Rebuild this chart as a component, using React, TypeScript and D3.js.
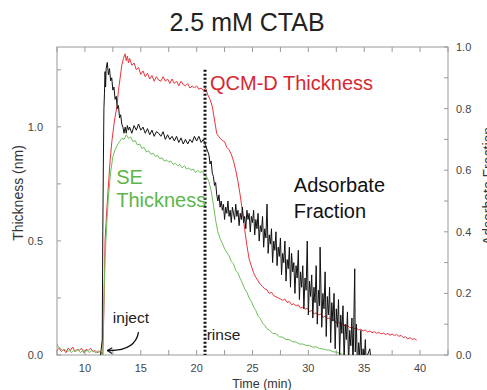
import React from "react";
import * as d3 from "d3";

// ---- data (time in min) ----
const qcmThickness: [number, number][] = [
  [7.5,0.02],[7.7,0.03],[7.9,0.015],[8.1,0.025],[8.3,0.01],[8.5,0.03],[8.7,0.02],[8.9,0.035],[9.1,0.015],[9.3,0.025],[9.5,0.02],[9.7,0.03],[9.9,0.01],[10.1,0.025],[10.3,0.02],[10.5,0.03],[10.7,0.015],[10.9,0.02],[11.1,0.01],[11.3,0.015],[11.5,0.01],[11.6,0.0],
  [11.7,0.2],[11.8,0.5],[11.95,0.63],[12.07,0.72],[12.25,0.85],[12.42,0.94],[12.65,1.03],[12.87,1.09],[13.0,1.16],[13.14,1.21],[13.3,1.27],[13.45,1.30],[13.59,1.32],[13.7,1.29],[13.8,1.31],[13.9,1.28],[14.0,1.30],[14.2,1.27],[14.4,1.28],[14.6,1.25],[14.8,1.26],[15.0,1.23],[15.2,1.245],[15.4,1.22],[15.6,1.235],[15.8,1.21],[16.0,1.225],[16.2,1.20],[16.4,1.22],[16.6,1.205],[16.8,1.20],[17.0,1.22],[17.2,1.20],[17.4,1.21],[17.6,1.19],[17.8,1.21],[18.0,1.19],[18.2,1.20],[18.4,1.18],[18.6,1.20],[18.8,1.185],[19.0,1.18],[19.2,1.19],[19.4,1.17],[19.6,1.18],[19.8,1.17],[20.0,1.18],[20.2,1.165],[20.4,1.17],[20.6,1.16],[20.8,1.17],
  [21.0,1.14],[21.2,1.12],[21.4,1.09],[21.6,1.03],[21.8,0.97],[21.95,0.96],[22.1,0.95],[22.3,0.94],[22.5,0.935],[22.7,0.91],[22.9,0.90],[23.1,0.88],[23.3,0.85],[23.5,0.81],[23.7,0.76],[23.9,0.70],[24.1,0.63],[24.3,0.55],[24.5,0.48],[24.7,0.42],[24.9,0.39],[25.1,0.36],[25.3,0.34],[25.5,0.325],[25.7,0.31],[25.9,0.30],[26.1,0.29],[26.3,0.285],[26.5,0.27],[26.7,0.275],[26.9,0.26],[27.1,0.255],[27.3,0.25],[27.5,0.245],[27.7,0.24],[27.9,0.245],[28.1,0.23],[28.3,0.235],[28.5,0.22],[28.7,0.225],[28.9,0.215],[29.1,0.22],[29.3,0.205],[29.5,0.21],[29.7,0.20],[29.9,0.205],[30.1,0.19],[30.3,0.195],[30.5,0.18],[30.7,0.185],[30.9,0.175],[31.1,0.18],[31.3,0.165],[31.5,0.17],[31.7,0.16],[31.9,0.162],[32.1,0.15],[32.3,0.155],[32.5,0.14],[32.7,0.145],[32.9,0.135],[33.1,0.138],[33.3,0.125],[33.5,0.13],[33.7,0.12],[33.9,0.122],[34.1,0.115],[34.3,0.118],[34.5,0.11],[34.7,0.113],[34.9,0.105],[35.1,0.11],[35.3,0.10],[35.5,0.106],[35.7,0.098],[35.9,0.102],[36.1,0.095],[36.3,0.1],[36.5,0.092],[36.7,0.096],[36.9,0.09],[37.1,0.094],[37.3,0.087],[37.5,0.092],[37.7,0.085],[37.9,0.09],[38.1,0.082],[38.3,0.086],[38.5,0.076],[38.7,0.08],[38.9,0.07],[39.1,0.076],[39.3,0.068],[39.5,0.072],[39.7,0.065]
];

const seThickness: [number, number][] = [
  [7.5,0.05],[7.6,0.035],[7.8,0.03],[8.0,0.02],[8.2,0.025],[8.4,0.015],[8.6,0.02],[8.8,0.01],[9.0,0.02],[9.2,0.015],[9.4,0.025],[9.6,0.01],[9.8,0.02],[10.0,0.015],[10.2,0.02],[10.4,0.01],[10.6,0.02],[10.8,0.015],[11.0,0.01],[11.2,0.02],[11.4,0.01],[11.6,0.0],
  [11.7,0.25],[11.8,0.42],[11.95,0.57],[12.1,0.69],[12.3,0.80],[12.5,0.87],[12.7,0.90],[12.9,0.92],[13.1,0.935],[13.3,0.95],[13.5,0.945],[13.7,0.965],[13.9,0.95],[14.1,0.955],[14.3,0.935],[14.5,0.94],[14.7,0.92],[14.9,0.925],[15.1,0.905],[15.3,0.91],[15.5,0.89],[15.7,0.895],[15.9,0.88],[16.1,0.885],[16.3,0.87],[16.5,0.875],[16.7,0.86],[16.9,0.865],[17.1,0.85],[17.3,0.855],[17.5,0.845],[17.7,0.85],[17.9,0.835],[18.1,0.84],[18.3,0.83],[18.5,0.835],[18.7,0.82],[18.9,0.83],[19.1,0.815],[19.3,0.82],[19.5,0.81],[19.7,0.815],[19.9,0.80],[20.1,0.81],[20.3,0.80],[20.5,0.805],[20.7,0.79],[20.9,0.78],
  [21.1,0.76],[21.3,0.72],[21.5,0.66],[21.7,0.59],[21.9,0.54],[22.1,0.51],[22.3,0.49],[22.5,0.465],[22.7,0.45],[22.9,0.435],[23.1,0.41],[23.3,0.40],[23.5,0.37],[23.7,0.36],[23.9,0.335],[24.1,0.315],[24.3,0.29],[24.5,0.275],[24.7,0.25],[24.9,0.235],[25.1,0.21],[25.3,0.195],[25.5,0.17],[25.7,0.16],[25.9,0.14],[26.1,0.13],[26.3,0.115],[26.5,0.11],[26.8,0.095],[27.1,0.093],[27.4,0.08],[27.7,0.078],[28.0,0.068],[28.3,0.067],[28.6,0.058],[28.9,0.057],[29.2,0.048],[29.5,0.048],[29.8,0.042],[30.1,0.042],[30.4,0.034],[30.7,0.036],[31.0,0.028],[31.3,0.027],[31.6,0.022],[31.9,0.022],[32.2,0.014],[32.5,0.013],[32.8,0.007],[33.1,0.003]
];

const adsorbateFraction: [number, number][] = [
  [11.4,0],[11.55,0.05],[11.6,0.40],[11.65,0.62],[11.7,0.80],[11.75,0.85],[11.8,0.92],[11.85,0.87],[11.9,0.93],[12.0,0.95],[12.1,0.91],[12.2,0.93],[12.3,0.89],[12.4,0.90],[12.5,0.86],[12.6,0.87],[12.7,0.83],[12.8,0.84],[12.9,0.80],[13.0,0.81],[13.1,0.77],[13.2,0.78],[13.3,0.75],[13.4,0.74],[13.5,0.72],[13.6,0.74],[13.7,0.72],[13.8,0.745],[13.9,0.73],[14.0,0.74],[14.2,0.72],[14.4,0.745],[14.6,0.73],[14.8,0.75],[15.0,0.73],[15.2,0.74],[15.4,0.72],[15.6,0.735],[15.8,0.715],[16.0,0.73],[16.2,0.71],[16.4,0.725],[16.6,0.72],[16.8,0.71],[17.0,0.725],[17.2,0.70],[17.4,0.715],[17.6,0.70],[17.8,0.71],[18.0,0.695],[18.2,0.71],[18.4,0.69],[18.6,0.705],[18.8,0.685],[19.0,0.70],[19.2,0.685],[19.4,0.70],[19.6,0.69],[19.8,0.71],[20.0,0.695],[20.2,0.71],[20.4,0.69],[20.6,0.70],[20.8,0.68],
  [21.0,0.66],[21.1,0.65],[21.2,0.62],[21.3,0.63],[21.4,0.59],[21.5,0.58],[21.6,0.55],[21.7,0.56],[21.8,0.52],[21.9,0.50],[22.0,0.52],[22.1,0.48],[22.2,0.50],[22.3,0.47],[22.4,0.49],[22.5,0.44],[22.6,0.48],[22.7,0.46],[22.8,0.50],[22.9,0.45],[23.0,0.47],[23.1,0.43],[23.2,0.48],[23.3,0.46],[23.4,0.44],[23.5,0.49],[23.6,0.45],[23.7,0.47],[23.8,0.42],[23.9,0.46],[24.0,0.44],[24.1,0.48],[24.2,0.43],[24.3,0.45],[24.4,0.41],[24.5,0.47],[24.6,0.44],[24.7,0.46],[24.8,0.40],[24.9,0.45],[25.0,0.43],[25.1,0.47],[25.2,0.39],[25.3,0.44],[25.4,0.41],[25.5,0.46],[25.6,0.37],[25.7,0.42],[25.8,0.40],[25.9,0.45],[26.0,0.35],[26.1,0.41],[26.2,0.38],[26.3,0.49],[26.4,0.33],[26.5,0.39],[26.6,0.36],[26.7,0.41],[26.8,0.30],[26.9,0.37],[27.0,0.34],[27.1,0.40],[27.2,0.29],[27.3,0.35],[27.4,0.32],[27.5,0.38],[27.6,0.26],[27.7,0.33],[27.8,0.30],[27.9,0.37],[28.0,0.24],[28.1,0.31],[28.2,0.28],[28.3,0.35],[28.4,0.22],[28.5,0.33],[28.6,0.27],[28.7,0.30],[28.8,0.20],[28.9,0.29],[29.0,0.25],[29.1,0.34],[29.2,0.18],[29.3,0.27],[29.4,0.22],[29.5,0.29],[29.6,0.15],[29.7,0.25],[29.8,0.21],[29.9,0.37],[30.0,0.13],[30.1,0.24],[30.2,0.19],[30.3,0.26],[30.4,0.12],[30.5,0.22],[30.6,0.17],[30.7,0.29],[30.8,0.10],[30.9,0.21],[31.0,0.16],[31.05,0.35],[31.2,0.09],[31.3,0.20],[31.4,0.15],[31.5,0.27],[31.6,0.06],[31.7,0.19],[31.8,0.13],[31.9,0.22],[32.0,0.04],[32.1,0.17],[32.2,0.11],[32.3,0.20],[32.4,0.02],[32.5,0.15],[32.6,0.09],[32.7,0.18],[32.8,0.0],[32.9,0.13],[33.0,0.07],[33.1,0.16],[33.2,-0.02],[33.3,0.10],[33.4,0.05],[33.5,0.14],[33.6,-0.03],[33.7,0.08],[33.8,0.03],[33.9,0.12],[34.0,-0.04],[34.15,0.28],[34.2,0.01],[34.3,0.10],[34.4,-0.05],[34.5,0.04],[34.6,0.0],[34.7,0.08],[34.8,-0.05],[34.9,0.02],[35.0,-0.02],[35.1,0.05],[35.2,-0.05],[35.3,0.0],[35.5,0.02],[35.7,-0.05]
];

const xMajorTicks = [10, 15, 20, 25, 30, 35, 40];
const xMinorTicks = [7.5, 12.5, 17.5, 22.5, 27.5, 32.5, 37.5, 42.5];
const yLeftMajorTicks = [0, 0.5, 1.0];
const yLeftMinorTicks = [0.25, 0.75, 1.25];
const yRightMajorTicks = [0, 0.2, 0.4, 0.6, 0.8, 1.0];
const yRightMinorTicks = [0.1, 0.3, 0.5, 0.7, 0.9];
const rinseTime = 20.75;

const FONT = "Liberation Sans, Arial, Helvetica, sans-serif";

export default function App() {
  const W = 487, H = 390;
  const L = 57, R = 448, T = 47, B = 355;
  const x = d3.scaleLinear().domain([7.5, 42.5]).range([L, R]);
  const yL = d3.scaleLinear().domain([0, 1.35]).range([B, T]);
  const yR = d3.scaleLinear().domain([0, 1]).range([B, T]);

  const lineL = d3.line<[number, number]>().x(d => x(d[0])).y(d => yL(d[1]));
  const lineR = d3.line<[number, number]>().x(d => x(d[0])).y(d => yR(d[1]));

  const frame = "#9a9a9a";
  const tickCol = "#9a9a9a";
  const lab = "#444";

  // arrow path in data coordinates
  const arrowStart: [number, number] = [14.8, 0.10];
  const arrowCtrl: [number, number] = [14.5, 0.015];
  const arrowEnd: [number, number] = [12.0, 0.02];
  const ap = d3.path();
  ap.moveTo(x(arrowStart[0]), yL(arrowStart[1]));
  ap.quadraticCurveTo(x(arrowCtrl[0]), yL(arrowCtrl[1]), x(arrowEnd[0]), yL(arrowEnd[1]));

  return (
    <svg width={W} height={H} style={{ position: "absolute", left: 0, top: 0, background: "#fff" }} fontFamily={FONT}>
      <defs>
        <clipPath id="plot"><rect x={L} y={T} width={R - L} height={B - T} /></clipPath>
        <marker id="ah" viewBox="0 0 10 10" refX="9" refY="5" markerWidth="7" markerHeight="7" orient="auto" markerUnits="userSpaceOnUse">
          <path d="M2,1 L9,5 L2,9" fill="none" stroke="#111" strokeWidth="1.6" />
        </marker>
      </defs>
      <rect x={0} y={0} width={W} height={H} fill="#fff" />

      <text x={247} y={31} textAnchor="middle" fontSize={25} fill="#222">2.5 mM CTAB</text>

      {/* frame */}
      <rect x={L} y={T} width={R - L} height={B - T} fill="none" stroke={frame} strokeWidth={1} />

      {/* x ticks bottom & top */}
      {xMajorTicks.concat(xMinorTicks).map((t, i) => (
        <g key={"xt" + i}>
          <line x1={x(t)} x2={x(t)} y1={B} y2={B - 5} stroke={tickCol} />
          <line x1={x(t)} x2={x(t)} y1={T} y2={T + 5} stroke={tickCol} />
        </g>
      ))}
      {xMajorTicks.map(t => (
        <text key={"xl" + t} x={x(t)} y={372} textAnchor="middle" fontSize={11} fill={lab}>{t}</text>
      ))}
      <text x={262} y={388} textAnchor="middle" fontSize={12.5} fill="#333">Time (min)</text>

      {/* left axis */}
      {yLeftMajorTicks.concat(yLeftMinorTicks).map((v, i) => (
        <line key={"yl" + i} x1={L} x2={L + 4} y1={yL(v)} y2={yL(v)} stroke={tickCol} />
      ))}
      {yLeftMajorTicks.map(v => (
        <text key={"yll" + v} x={43} y={yL(v) + 4} textAnchor="end" fontSize={11} fill={lab}>{v.toFixed(1)}</text>
      ))}
      <text transform={`translate(23,${193}) rotate(-90)`} textAnchor="middle" fontSize={14} fill="#333">Thickness (nm)</text>

      {/* right axis */}
      {yRightMajorTicks.concat(yRightMinorTicks).map((v, i) => (
        <line key={"yr" + i} x1={R} x2={R - 4} y1={yR(v)} y2={yR(v)} stroke={tickCol} />
      ))}
      {yRightMajorTicks.map(v => (
        <text key={"yrl" + v} x={456} y={yR(v) + 4} textAnchor="start" fontSize={11} fill={lab}>{v.toFixed(1)}</text>
      ))}
      <text transform={`translate(493,${186}) rotate(-90)`} textAnchor="middle" fontSize={14} fill="#333">Adsorbate Fraction</text>

      {/* data */}
      <g clipPath="url(#plot)">
        <path d={lineL(qcmThickness) || ""} fill="none" stroke="#e8343c" strokeWidth={1} />
        <path d={lineL(seThickness) || ""} fill="none" stroke="#6cc05a" strokeWidth={1} />
        <path d={lineR(adsorbateFraction) || ""} fill="none" stroke="#111" strokeWidth={1} />
      </g>

      {/* rinse line */}
      <line x1={x(rinseTime)} x2={x(rinseTime)} y1={yL(1.25)} y2={B} stroke="#111" strokeWidth={3} strokeDasharray="2,2" />

      {/* annotations */}
      <text x={x(21.2)} y={yL(1.16)} fontSize={20} fill="#d8262e">QCM-D Thickness</text>
      <text x={x(12.8)} y={yL(0.75)} fontSize={20} fill="#5db64a">SE</text>
      <text x={x(12.8)} y={yL(0.65)} fontSize={20} fill="#5db64a">Thickness</text>
      <text x={x(28.7)} y={yR(0.53)} fontSize={20} fill="#111">Adsorbate</text>
      <text x={x(28.7)} y={yR(0.445)} fontSize={20} fill="#111">Fraction</text>
      <text x={x(12.5)} y={yL(0.14)} fontSize={15.5} fill="#222">inject</text>
      <text x={x(20.9)} y={yL(0.066)} fontSize={15.5} fill="#222">rinse</text>
      <path d={ap.toString()} fill="none" stroke="#111" strokeWidth={1.3} markerEnd="url(#ah)" />
    </svg>
  );
}
